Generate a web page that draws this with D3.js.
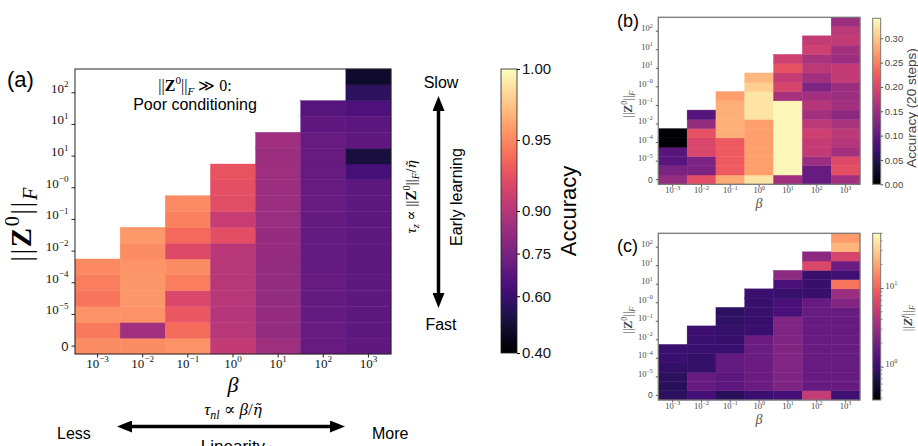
<!DOCTYPE html>
<html>
<head>
<meta charset="utf-8">
<script src="https://cdn.jsdelivr.net/npm/d3@7"></script>
<style>
body{margin:0;background:#fff;}
.sans{font-family:"Liberation Sans", Arial, sans-serif;}
.serif{font-family:"Liberation Serif", "DejaVu Serif", serif;}
</style>
</head>
<body>
<svg id="fig" width="918" height="446"></svg>
<script>
// ---- data ----
const betaExp = ["\u22123","\u22122","\u22121","0","1","2","3"];
const zTickRows = [0,2,4,6,8,10,12,14,16];
const zTickExp = [null,"\u22125","\u22124","\u22122","\u22121","\u22120","1","1","2"];

// (a) accuracy, one array per beta column, rows bottom -> top
const accA = [
	[0.952,0.944,0.954,0.942,0.946,0.950],
	[0.952,0.850,0.954,0.956,0.956,0.955,0.952,0.957],
	[0.954,0.938,0.928,0.918,0.946,0.952,0.920,0.937,0.947,0.951],
	[0.906,0.900,0.899,0.900,0.901,0.900,0.900,0.923,0.908,0.922,0.924,0.926],
	[0.845,0.820,0.822,0.820,0.821,0.820,0.822,0.825,0.830,0.838,0.835,0.842,0.840,0.848],
	[0.705,0.705,0.700,0.703,0.705,0.700,0.698,0.700,0.702,0.705,0.705,0.708,0.708,0.705,0.690,0.665],
	[0.690,0.685,0.685,0.688,0.686,0.685,0.688,0.686,0.685,0.684,0.683,0.630,0.515,0.690,0.680,0.645,0.565,0.485]
];
const accTicks = [0.40,0.60,0.75,0.90,0.95,1.00];
const accNorm = [0,0.2,0.35,0.5,0.75,1];

// (b) accuracy after 20 steps
const accB = [
	[0.143,0.122,0.093,0.093,0.000,0.000],
	[0.210,0.122,0.122,0.200,0.200,0.212,0.143,0.090],
	[0.280,0.222,0.222,0.222,0.222,0.283,0.283,0.283,0.283,0.272],
	[0.322,0.272,0.272,0.272,0.272,0.272,0.272,0.322,0.322,0.322,0.306,0.290],
	[0.153,0.337,0.337,0.337,0.337,0.337,0.337,0.337,0.337,0.158,0.198,0.183,0.214,0.190],
	[0.105,0.105,0.150,0.180,0.183,0.190,0.175,0.155,0.170,0.155,0.125,0.155,0.175,0.160,0.190,0.180],
	[0.155,0.210,0.205,0.155,0.170,0.175,0.160,0.135,0.155,0.150,0.150,0.180,0.180,0.150,0.155,0.180,0.175,0.150]
];
const accBTicks = [0.00,0.05,0.10,0.15,0.20,0.25,0.30];
const accBMax = 0.341;

// (c) final norm ||Z^f||_F
const normC = [
	[0.85,0.82,0.85,0.92,1.00,1.00],
	[1.10,1.70,1.70,0.93,0.93,1.00,1.00,1.02],
	[0.82,1.50,1.50,1.60,1.60,1.00,0.98,0.95,0.90,0.86],
	[1.00,1.75,1.75,1.75,1.75,1.75,1.75,1.00,0.98,0.98,0.95,1.00],
	[1.10,2.25,2.25,2.30,2.30,2.30,2.25,2.25,2.30,1.19,1.19,0.95,1.19,2.66],
	[5.10,1.70,1.70,1.70,1.70,1.70,1.70,1.70,1.70,1.70,1.70,0.98,0.98,0.98,6.80,2.66],
	[1.05,1.70,1.70,1.70,1.70,1.70,1.70,1.70,1.70,1.70,2.35,3.20,12.0,1.05,1.75,6.50,23.0,17.8]
];
const normCRange = [0.376,50];

const svg = d3.select("#fig");
const nRows = 18;

function cells(M){
	let out = [];
	M.forEach(function(col, c){
		col.forEach(function(v, r){ out.push({c:c, r:r, v:v}); });
	});
	return out;
}

// tspans with sup/sub, kind flags: ^ sup, _ sub, B bold, I italic, D dejavu
function rich(sel, parts, size){
	let shift = 0;
	parts.forEach(function(p){
		let k = p[1], target = 0, fs = size;
		if(k.indexOf("^") >= 0){ target = -0.42*size; fs = 0.7*size; }
		if(k.indexOf("_") >= 0){ target = 0.22*size; fs = 0.7*size; }
		let t = sel.append("tspan").text(p[0])
			.attr("dy", target - shift)
			.style("font-size", fs + "px");
		shift = target;
		if(k.indexOf("B") >= 0) t.style("font-weight", "bold");
		if(k.indexOf("I") >= 0) t.style("font-style", "italic");
		if(k.indexOf("D") >= 0) t.style("font-family", "'DejaVu Serif', serif").style("font-size", (0.9*fs) + "px");
	});
}
function pow10(exp){ return exp === null ? null : [["10","n"],[exp,"^"]]; }
function zNormParts(sup){ return [["||","n"],["Z","B"],[sup,"^"],["||","n"],["F","_I"]]; }
const etaTilde = ["\u03B7\u0303","ID"];

function gradient(id, interp){
	let lg = svg.append("defs").append("linearGradient").attr("id", id)
		.attr("x1",0).attr("y1",1).attr("x2",0).attr("y2",0);
	d3.range(0, 1.0001, 0.02).forEach(function(t){
		lg.append("stop").attr("offset", t).attr("stop-color", interp(t));
	});
}

// heatmap panel with staircase columns
function heatmap(M, x, y, color, opts){
	let g = svg.append("g");
	g.selectAll("rect.cell").data(cells(M)).enter().append("rect")
		.attr("class","cell")
		.attr("x", function(d){ return x(d.c); })
		.attr("y", function(d){ return y(d.r); })
		.attr("width", x.bandwidth())
		.attr("height", y.bandwidth())
		.attr("fill", function(d){ return color(d.v); })
		.attr("stroke", function(d){ return color(d.v); })
		.attr("stroke-width", 0.4);

	let xr = x.range(), yr = y.range();
	let xa = g.append("g").attr("transform", "translate(0," + yr[0] + ")")
		.call(d3.axisBottom(x).tickSize(opts.tick).tickSizeOuter(0));
	xa.select(".domain").remove();
	xa.selectAll(".tick line").attr("stroke", opts.axisColor);
	xa.selectAll(".tick text").each(function(d){
		let t = d3.select(this).text(null).attr("class","serif").attr("fill", opts.textColor)
			.attr("y", opts.tick + opts.xPad).attr("dy", 0);
		rich(t, pow10(betaExp[d]), opts.font);
	});

	let ya = g.append("g").attr("transform", "translate(" + xr[0] + ",0)")
		.call(d3.axisLeft(y).tickValues(zTickRows).tickSize(opts.tick).tickSizeOuter(0));
	ya.select(".domain").remove();
	ya.selectAll(".tick line").attr("stroke", opts.axisColor);
	ya.selectAll(".tick text").each(function(d, i){
		let t = d3.select(this).text(null).attr("fill", opts.textColor).attr("dy", "0.35em");
		let parts = pow10(zTickExp[i]);
		if(parts === null){
			t.attr("class","sans").style("font-size", opts.font + "px").text("0");
		}else{
			t.attr("class","serif");
			rich(t, parts, opts.font);
		}
	});

	g.append("rect")
		.attr("x", xr[0]).attr("y", yr[1])
		.attr("width", xr[1]-xr[0]).attr("height", yr[0]-yr[1])
		.attr("fill","none").attr("stroke", opts.frame).attr("stroke-width", opts.frameW);
	return g;
}

// ---------------- panel (a) ----------------
const xA = d3.scaleBand().domain(d3.range(7)).range([75, 391]);
const yA = d3.scaleBand().domain(d3.range(nRows)).range([354, 69]);
const normA = d3.scaleLinear().domain(accTicks).range(accNorm).clamp(true);
const colorA = function(v){ return d3.interpolateMagma(normA(v)); };

heatmap(accA, xA, yA, colorA, {tick:3.5, xPad:10, font:13, textColor:"#111", axisColor:"#222", frame:"#222", frameW:1});

svg.append("text").attr("class","sans").attr("x", 7).attr("y", 87)
	.style("font-size","22px").text("(a)");

let ta = svg.append("text").attr("class","serif").attr("x", 195).attr("y", 91)
	.attr("text-anchor","middle");
rich(ta, zNormParts("0").concat([[" \u226B 0:","n"]]), 16);
svg.append("text").attr("class","sans").attr("x", 195).attr("y", 110)
	.attr("text-anchor","middle").style("font-size","16px").text("Poor conditioning");

let ylA = svg.append("text").attr("class","serif").attr("text-anchor","middle")
	.attr("transform","translate(31,224) rotate(-90)")
	.style("letter-spacing","1.5px");
rich(ylA, zNormParts("0"), 29);

svg.append("text").attr("class","serif").attr("x", 233).attr("y", 392)
	.attr("text-anchor","middle").style("font-size","22px").style("font-style","italic").text("\u03B2");
let tnl = svg.append("text").attr("class","serif").attr("x", 233).attr("y", 415)
	.attr("text-anchor","middle");
rich(tnl, [["\u03C4","I"],["nl","_I"],[" \u221D ","n"],["\u03B2","I"],["/","n"],etaTilde], 17);

// arrows
let defs = svg.append("defs");
defs.append("marker").attr("id","head")
	.attr("markerUnits","userSpaceOnUse")
	.attr("markerWidth",15).attr("markerHeight",12)
	.attr("refX",0).attr("refY",6)
	.attr("orient","auto-start-reverse")
	.append("path").attr("d","M0,0 L15,6 L0,12 z").attr("fill","#000");

svg.append("line").attr("x1", 117+15).attr("x2", 345-15).attr("y1", 426.5).attr("y2", 426.5)
	.attr("stroke","#000").attr("stroke-width",3.5)
	.attr("marker-start","url(#head)").attr("marker-end","url(#head)");
svg.append("text").attr("class","sans").attr("x", 57).attr("y", 439)
	.style("font-size","16px").text("Less");
svg.append("text").attr("class","sans").attr("x", 372).attr("y", 439)
	.style("font-size","16px").text("More");
svg.append("text").attr("class","sans").attr("x", 233).attr("y", 452)
	.attr("text-anchor","middle").style("font-size","17px").text("Linearity");

svg.append("line").attr("x1", 438.5).attr("x2", 438.5).attr("y1", 96+15).attr("y2", 308-15)
	.attr("stroke","#000").attr("stroke-width",3.5)
	.attr("marker-start","url(#head)").attr("marker-end","url(#head)");
svg.append("text").attr("class","sans").attr("x", 441).attr("y", 88)
	.attr("text-anchor","middle").style("font-size","16px").text("Slow");
svg.append("text").attr("class","sans").attr("x", 441).attr("y", 330)
	.attr("text-anchor","middle").style("font-size","16px").text("Fast");
svg.append("text").attr("class","sans").attr("text-anchor","middle")
	.attr("transform","translate(462,197) rotate(-90)")
	.style("font-size","16px").text("Early learning");
let tz = svg.append("text").attr("class","serif").attr("text-anchor","middle")
	.attr("transform","translate(416,197) rotate(-90)");
rich(tz, [["\u03C4","I"],["z","_I"],[" \u221D ","n"]].concat(zNormParts("0"))
	.concat([["/","n"],etaTilde]), 15);

// colorbar (a)
gradient("magmaGrad", d3.interpolateMagma);
const cbA = d3.scaleLinear().domain([0,1]).range([353, 69]);
svg.append("rect").attr("x", 501).attr("y", 69).attr("width", 16).attr("height", 284)
	.attr("fill","url(#magmaGrad)").attr("stroke","#222").attr("stroke-width",0.8);
let cbAxA = svg.append("g").attr("transform","translate(517,0)")
	.call(d3.axisRight(d3.scaleLinear().domain(accTicks).range(accNorm.map(cbA)))
		.tickValues(accTicks).tickFormat(d3.format(".2f")).tickSize(3).tickPadding(2));
cbAxA.select(".domain").remove();
cbAxA.selectAll("text").attr("class","sans").style("font-size","15px").attr("fill","#111");
svg.append("text").attr("class","sans").attr("text-anchor","middle")
	.attr("transform","translate(576,211) rotate(-90)")
	.style("font-size","22px").text("Accuracy");

// ---------------- panel (b) ----------------
const smallOpts = {tick:2.5, xPad:6.5, font:8.5, textColor:"#444", axisColor:"#555", frame:"#777", frameW:1.3};
const xB = d3.scaleBand().domain(d3.range(7)).range([658.3, 860]);
const yB = d3.scaleBand().domain(d3.range(nRows)).range([184.3, 17.3]);
const normB = d3.scaleLinear().domain([0, accBMax]).clamp(true);
heatmap(accB, xB, yB, function(v){ return d3.interpolateMagma(normB(v)); }, smallOpts);

svg.append("text").attr("class","sans").attr("x", 617).attr("y", 27)
	.style("font-size","18px").text("(b)");
let ylB = svg.append("text").attr("class","serif").attr("text-anchor","middle").attr("fill","#444")
	.attr("transform","translate(632,104) rotate(-90)");
rich(ylB, zNormParts("0"), 12);
svg.append("text").attr("class","serif").attr("x", 759).attr("y", 208)
	.attr("text-anchor","middle").attr("fill","#555").style("font-size","14px").style("font-style","italic").text("\u03B2");

const cbB = d3.scaleLinear().domain([0, accBMax]).range([184.3, 18.3]);
svg.append("rect").attr("x", 872.7).attr("y", 18.3).attr("width", 8).attr("height", 166)
	.attr("fill","url(#magmaGrad)").attr("stroke","#777").attr("stroke-width",1);
let cbAxB = svg.append("g").attr("transform","translate(880.7,0)")
	.call(d3.axisRight(cbB).tickValues(accBTicks).tickFormat(d3.format(".2f")).tickSize(2.5).tickPadding(1.5));
cbAxB.select(".domain").remove();
cbAxB.selectAll("line").attr("stroke","#555");
cbAxB.selectAll("text").attr("class","sans").style("font-size","9.5px").attr("fill","#444");
svg.append("text").attr("class","sans").attr("text-anchor","middle").attr("fill","#444")
	.attr("transform","translate(916,108) rotate(-90)")
	.style("font-size","13.5px").text("Accuracy (20 steps)");

// ---------------- panel (c) ----------------
const xC = d3.scaleBand().domain(d3.range(7)).range([658.3, 860]);
const yC = d3.scaleBand().domain(d3.range(nRows)).range([400, 233.3]);
const normCS = d3.scaleLog().domain(normCRange).range([0,1]).clamp(true);
heatmap(normC, xC, yC, function(v){ return d3.interpolateMagma(normCS(v)); }, smallOpts);

svg.append("text").attr("class","sans").attr("x", 617).attr("y", 252)
	.style("font-size","18px").text("(c)");
let ylC = svg.append("text").attr("class","serif").attr("text-anchor","middle").attr("fill","#444")
	.attr("transform","translate(632,320) rotate(-90)");
rich(ylC, zNormParts("0"), 12);
svg.append("text").attr("class","serif").attr("x", 759).attr("y", 424)
	.attr("text-anchor","middle").attr("fill","#555").style("font-size","14px").style("font-style","italic").text("\u03B2");

const cbC = d3.scaleLog().domain(normCRange).range([400, 233.3]);
svg.append("rect").attr("x", 872.7).attr("y", 233.3).attr("width", 8).attr("height", 166.7)
	.attr("fill","url(#magmaGrad)").attr("stroke","#777").attr("stroke-width",1);
let minorC = [0.4,0.5,0.6,0.7,0.8,0.9,2,3,4,5,6,7,8,9,20,30,40,50];
let cbAxC = svg.append("g").attr("transform","translate(880.7,0)");
cbAxC.selectAll("line.minor").data(minorC).enter().append("line")
	.attr("x1",0).attr("x2",1.8).attr("y1", cbC).attr("y2", cbC).attr("stroke","#555").attr("stroke-width",0.6);
cbAxC.call(d3.axisRight(cbC).tickValues([1,10]).tickSize(3).tickPadding(1.5).tickFormat(""));
cbAxC.select(".domain").remove();
cbAxC.selectAll(".tick line").attr("stroke","#555");
cbAxC.selectAll(".tick text").each(function(d){
	let t = d3.select(this).attr("class","serif").attr("fill","#444");
	rich(t, pow10(d === 1 ? "0" : "1"), 9);
});
let clC = svg.append("text").attr("class","serif").attr("text-anchor","middle").attr("fill","#444")
	.attr("transform","translate(912,318) rotate(-90)");
rich(clC, [["||","n"],["Z","BI"],["f","^I"],["||","n"],["F","_I"]], 13);
</script>
</body>
</html>
